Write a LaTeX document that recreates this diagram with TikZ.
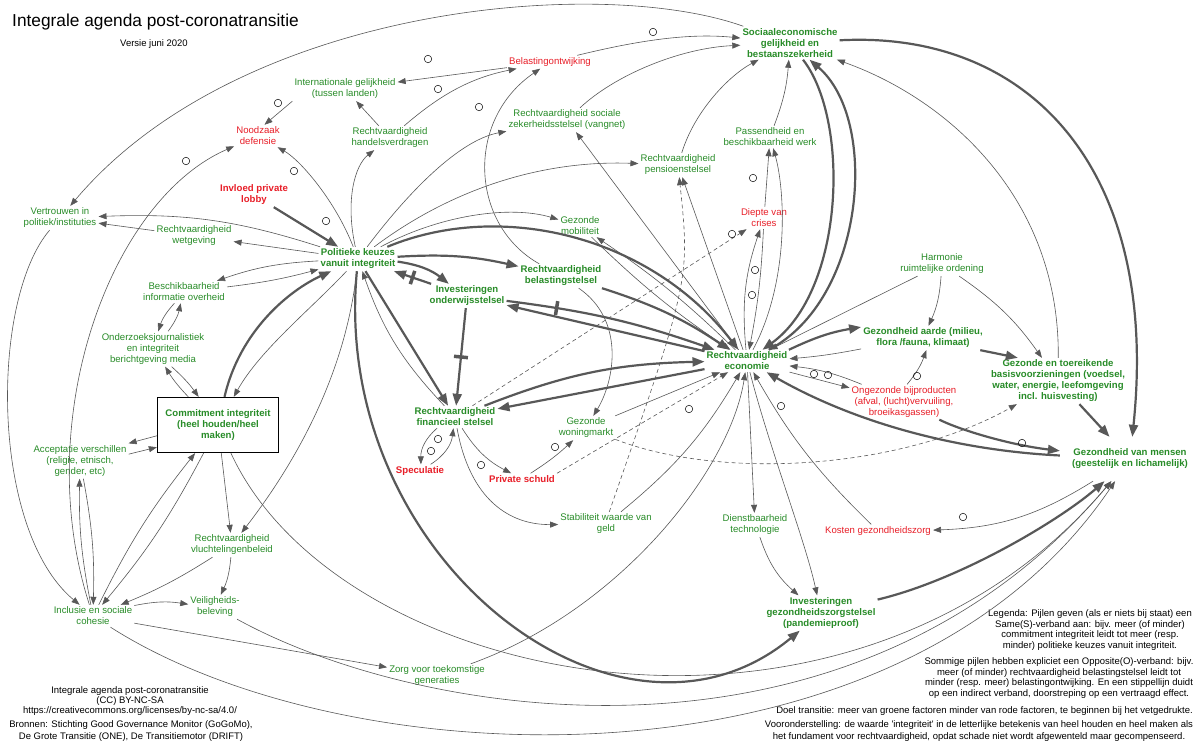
\documentclass[tikz,border=0pt]{standalone}
\usepackage{fontspec}
\setmainfont{Liberation Sans}
\usepackage{tikz}
\usetikzlibrary{arrows.meta}

\definecolor{factorgreen}{RGB}{40,140,40}
\definecolor{factorred}{RGB}{232,30,40}
\definecolor{linkgray}{RGB}{88,88,88}

\newcommand{\factorfont}{\fontsize{9.6}{11}\selectfont}
\newcommand{\notefont}{\fontsize{9.5}{10.7}\selectfont}

\begin{document}
\begin{tikzpicture}[x=1pt,y=1pt,>={Triangle[length=8pt,width=6pt]}]
		\tikzstyle{factor}=[text=factorgreen, align=center, font=\factorfont, inner sep=2pt]
		\tikzstyle{factor bold}=[factor, font=\factorfont\bfseries]
		\tikzstyle{risk}=[factor, text=factorred]
		\tikzstyle{risk bold}=[risk, font=\factorfont\bfseries]
		\tikzstyle{note}=[align=center, font=\notefont, text=black, inner sep=1pt]
		\tikzstyle{link}=[->, draw=linkgray, line width=0.6pt]
		\tikzstyle{strong link}=[-{Triangle[length=12pt,width=9pt]}, draw=linkgray, line width=2.2pt]
		\tikzstyle{indirect}=[link, dash pattern=on 4pt off 3pt]
		\tikzstyle{omark}=[circle, draw=black, line width=0.5pt, minimum size=7.5pt, inner sep=0pt]
		\tikzstyle{delay}=[rectangle, fill=linkgray, minimum width=3.5pt, minimum height=14pt, inner sep=0pt, sloped]

		\fill[white] (0,0) rectangle (1200,-749);
		\useasboundingbox (0,0) rectangle (1200,-749);

		% titel
		\node[anchor=west, inner sep=0pt, font=\fontsize{17.3}{20}\selectfont] (title) at (12,-22) {Integrale agenda post-coronatransitie};
		\node[note] (version) at (154,-44) {Versie juni 2020};

		% factoren
		\node[factor bold] (soc) at (790,-43) {Sociaaleconomische\\gelijkheid en\\bestaanszekerheid};
		\node[risk] (belast) at (550,-62) {Belastingontwijking};
		\node[factor] (intgel) at (345,-89) {Internationale gelijkheid\\(tussen landen)};
		\node[risk] (noodzaak) at (258,-136) {Noodzaak\\defensie};
		\node[factor] (handel) at (390,-138) {Rechtvaardigheid\\handelsverdragen};
		\node[factor] (socvang) at (567,-120) {Rechtvaardigheid sociale\\zekerheidsstelsel (vangnet)};
		\node[factor] (pensioen) at (678,-165) {Rechtvaardigheid\\pensioenstelsel};
		\node[factor] (passend) at (770,-137) {Passendheid en\\beschikbaarheid werk};
		\node[risk] (diepte) at (764,-218) {Diepte van\\crises};
		\node[factor] (mobil) at (580,-226) {Gezonde\\mobiliteit};
		\node[risk bold] (invloed) at (254,-195) {Invloed private\\lobby};
		\node[factor] (vertrouwen) at (60,-218) {Vertrouwen in\\politiek/instituties};
		\node[factor] (wetgeving) at (194,-236) {Rechtvaardigheid\\wetgeving};
		\node[factor bold] (politiek) at (358,-259) {Politieke keuzes\\vanuit integriteit};
		\node[factor bold] (onderwijs) at (467,-296) {Investeringen\\onderwijsstelsel};
		\node[factor bold] (belstelsel) at (561,-276) {Rechtvaardigheid\\belastingstelsel};
		\node[factor bold] (econ) at (747,-361) {Rechtvaardigheid\\economie};
		\node[factor] (harmonie) at (942,-264) {Harmonie\\ruimtelijke ordening};
		\node[factor bold] (aarde) at (923,-338) {Gezondheid aarde (milieu,\\flora /fauna, klimaat)};
		\node[factor bold] (basis) at (1058,-381) {Gezonde en toereikende\\basisvoorzieningen (voedsel,\\water, energie, leefomgeving\\incl. huisvesting)};
		\node[risk] (bijprod) at (904,-402) {Ongezonde bijproducten\\(afval, (lucht)vervuiling,\\broeikasgassen)};
		\node[factor bold, inner sep=12pt] (mensen) at (1130,-459) {Gezondheid van mensen\\(geestelijk en lichamelijk)};
		\node[factor bold, draw=black, line width=1.3pt, minimum width=121pt, minimum height=55pt] (commitment) at (218,-425) {Commitment integriteit\\(heel houden/heel\\maken)};
		\node[factor] (beschik) at (184,-292) {Beschikbaarheid\\informatie overheid};
		\node[factor] (onderzoek) at (153,-349) {Onderzoeksjournalistiek\\en integriteit\\berichtgeving media};
		\node[factor] (accept) at (80,-461) {Acceptatie verschillen\\(religie, etnisch,\\gender, etc)};
		\node[factor bold] (financ) at (455,-417) {Rechtvaardigheid\\financieel stelsel};
		\node[risk bold] (speculatie) at (420,-471) {Speculatie};
		\node[risk bold] (privschuld) at (522,-479) {Private schuld};
		\node[factor] (woning) at (586,-428) {Gezonde\\woningmarkt};
		\node[factor] (stabil) at (606,-524) {Stabiliteit waarde van\\geld};
		\node[factor] (dienst) at (755,-525) {Dienstbaarheid\\technologie};
		\node[risk] (kosten) at (878,-531) {Kosten gezondheidszorg};
		\node[factor bold] (zorgstel) at (821,-613) {Investeringen\\gezondheidszorgstelsel\\(pandemieproof)};
		\node[factor] (vlucht) at (232,-545) {Rechtvaardigheid\\vluchtelingenbeleid};
		\node[factor] (veilig) at (215,-607) {Veiligheids-\\beleving};
		\node[factor] (inclusie) at (93,-616) {Inclusie en sociale\\cohesie};
		\node[factor] (zorgtoek) at (437,-676) {Zorg voor toekomstige\\generaties};

		% toelichting
		\node[note, font=\fontsize{9.5}{10.2}\selectfont] (credits) at (130,-701) {Integrale agenda post-coronatransitie\\(CC) BY-NC-SA\\https://creativecommons.org/licenses/by-nc-sa/4.0/};
		\node[note, font=\fontsize{9.5}{11.5}\selectfont] (sources) at (131,-731) {Bronnen: Stichting Good Governance Monitor (GoGoMo),\\De Grote Transitie (ONE), De Transitiemotor (DRIFT)};
		\node[note] (legend) at (1090,-630) {Legenda: Pijlen geven (als er niets bij staat) een\\Same(S)-verband aan: bijv. meer (of minder)\\commitment integriteit leidt tot meer (resp.\\minder) politieke keuzes vanuit integriteit.};
		\node[note] (legendo) at (1059,-678) {Sommige pijlen hebben expliciet een Opposite(O)-verband: bijv.\\meer (of minder) rechtvaardigheid belastingstelsel leidt tot\\minder (resp. meer) belastingontwijking. En een stippellijn duidt\\op een indirect verband, doorstreping op een vertraagd effect.};
		\node[note, anchor=east] (goal) at (1194,-711) {Doel transitie: meer van groene factoren minder van rode factoren, te beginnen bij het vetgedrukte.};
		\node[note, font=\fontsize{9.5}{11.5}\selectfont] (premise) at (979,-731) {Vooronderstelling: de waarde \textquotesingle integriteit\textquotesingle\ in de letterlijke betekenis van heel houden en heel maken als\\het fundament voor rechtvaardigheid, opdat schade niet wordt afgewenteld maar gecompenseerd.};

		% bovenkant
		\draw[link] (soc) .. controls (600,25) and (240,-5) .. (vertrouwen);
		\draw[link] (belast) .. controls (640,-40) and (690,-33) .. (soc);
		\draw[link] (socvang) .. controls (615,-75) and (680,-48) .. (soc);
		\draw[link] (pensioen) .. controls (695,-110) and (730,-75) .. (soc);
		\draw[link] (passend) to[bend right=8] (soc);
		\draw[strong link] (soc) .. controls (850,-120) and (845,-290) .. (econ);
		\draw[strong link] (econ) .. controls (865,-300) and (880,-120) .. (soc);
		\draw[strong link] (soc) .. controls (1030,-30) and (1160,-170) .. (mensen);
		\draw[link] (basis) .. controls (1060,-200) and (950,-100) .. (soc);

		\draw[link] (belast) -- (intgel);
		\draw[link] (handel) .. controls (440,-95) and (470,-78) .. (belast);
		\draw[link] (belstelsel) .. controls (470,-225) and (465,-120) .. (belast);
		\draw[link] (intgel.south west) -- (noodzaak.60);
		\draw[link] (handel) -- (intgel);
		\draw[link] (inclusie) .. controls (30,-420) and (110,-200) .. (noodzaak);
		\draw[link] (politiek) .. controls (335,-200) and (300,-160) .. (noodzaak);
		\draw[link] (politiek) .. controls (345,-200) and (355,-165) .. (handel);

		% links
		\draw[strong link] (invloed) -- (politiek);
		\draw[link] (politiek) to[bend right=10] (vertrouwen);
		\draw[link] (wetgeving) -- (vertrouwen);
		\draw[link] (politiek) -- (wetgeving);
		\draw[link] (vertrouwen) .. controls (-10,-300) and (-10,-530) .. (inclusie);
		\draw[link] (politiek) to[bend right=8] (beschik);
		\draw[link] (beschik) to[bend right=4] (politiek);
		\draw[link] (beschik) to[bend right=12] (onderzoek);
		\draw[link] (onderzoek) to[bend right=12] (beschik);
		\draw[link] (onderzoek) to[bend left=6] (commitment);
		\draw[link] (commitment) to[bend left=6] (onderzoek);
		\draw[strong link] (commitment) .. controls (240,-330) and (290,-290) .. (politiek);
		\draw[link] (politiek) .. controls (310,-310) and (260,-350) .. (commitment);
		\draw[link] (commitment.190) -- (accept.20);
		\draw[link] (accept.8) -- (commitment.200);
		\draw[link] (inclusie) to[bend left=6] (commitment);
		\draw[link] (commitment) to[bend left=6] (inclusie);
		\draw[link] (commitment) -- (vlucht);
		\draw[link] (politiek) .. controls (345,-380) and (290,-470) .. (vlucht);
		\draw[link] (inclusie) to[bend left=6] (accept);
		\draw[link] (accept) to[bend left=6] (inclusie);
		\draw[link] (inclusie) -- (zorgtoek);
		\draw[link] (inclusie) to[bend left=10] (veilig);
		\draw[link] (vlucht) to[bend left=5] (inclusie);
		\draw[link] (vlucht) to[bend left=10] (veilig);
		\draw[link] (commitment) .. controls (340,-690) and (850,-790) .. (mensen);
		\draw[link] (veilig) .. controls (420,-720) and (850,-790) .. (mensen);
		\draw[link] (inclusie) .. controls (350,-780) and (900,-800) .. (mensen);

		% politieke keuzes
		\draw[link] (politiek) .. controls (410,-190) and (460,-140) .. (socvang);
		\draw[link] (politiek) .. controls (450,-190) and (540,-160) .. (pensioen);
		\draw[link] (politiek) .. controls (440,-215) and (510,-205) .. (mobil);
		\draw[strong link] (politiek) .. controls (500,-200) and (650,-235) .. (econ);
		\draw[strong link] (politiek) to[bend left=8] (belstelsel);
		\draw[strong link] (politiek) to[bend left=15] (onderwijs);
		\draw[strong link] (onderwijs) -- node[delay] {} (politiek);
		\draw[strong link] (politiek) -- (financ);
		\draw[strong link] (onderwijs) -- node[delay] {} (financ);
		\draw[link] (financ) to[bend left=12] (politiek);
		\draw[strong link] (belstelsel) to[bend left=8] (econ);
		\draw[strong link] (onderwijs) to[bend left=6] node[delay, pos=.22] {} (econ);
		\draw[strong link] (econ) -- (onderwijs);
		\draw[strong link] (financ) to[bend left=10] (econ);
		\draw[strong link] (econ) -- (financ);
		\draw[strong link] (politiek) .. controls (330,-560) and (620,-780) .. (zorgstel);

		% economie
		\draw[link] (econ) -- (socvang);
		\draw[link] (econ) -- (pensioen);
		\draw[indirect] (stabil.75) .. controls (690,-280) .. (pensioen);
		\draw[link] (econ) to[bend right=5] (mobil);
		\draw[link] (mobil) to[bend right=5] (econ);
		\draw[link] (econ) to[bend left=12] (diepte);
		\draw[link] (diepte) to[bend left=4] (econ);
		\draw[link] (diepte) -- (passend);
		\draw[link] (econ) .. controls (790,-280) and (785,-190) .. (passend);
		\draw[link] (stabil) to[bend right=10] (econ);
		\draw[link] (zorgtoek) .. controls (620,-610) and (730,-470) .. (econ);
		\draw[link] (woning) -- (econ);
		\draw[indirect] (privschuld.north east) -- (econ);
		\draw[indirect] (financ) -- (diepte);
		\draw[indirect] (woning) .. controls (720,-480) and (900,-470) .. (basis);
		\draw[link] (econ) -- (dienst);
		\draw[link] (econ) .. controls (770,-450) and (805,-540) .. (zorgstel);
		\draw[link] (dienst) to[bend right=15] (zorgstel);
		\draw[link] (kosten) to[bend left=8] (econ);
		\draw[link] (mensen) to[bend left=15] (kosten);
		\draw[strong link] (mensen) .. controls (950,-450) and (850,-420) .. (econ);
		\draw[strong link] (zorgstel) .. controls (960,-580) and (1060,-520) .. (mensen);

		% rechts
		\draw[strong link] (bijprod) .. controls (960,-430) and (1010,-445) .. (mensen);
		\draw[strong link] (basis) -- (mensen);
		\draw[strong link] (aarde.-12) -- (basis.150);
		\draw[link] (harmonie) to[bend left=10] (aarde);
		\draw[link] (harmonie) to[bend left=10] (basis);
		\draw[link] (harmonie) -- (econ);
		\draw[strong link] (econ.15) to[bend left=8] (aarde.170);
		\draw[link] (aarde.190) to[bend left=3] (econ.3);
		\draw[link] (bijprod) to[bend right=8] (econ);
		\draw[link] (econ) -- (bijprod);
		\draw[link] (bijprod.80) to[bend right=10] (aarde.-75);

		% financieel stelsel
		\draw[link] (financ) to[bend right=25] (speculatie);
		\draw[link] (speculatie) to[bend right=25] (financ);
		\draw[link] (financ) to[bend right=15] (privschuld);
		\draw[link] (financ) .. controls (470,-500) and (510,-525) .. (stabil);
		\draw[link] (privschuld) to[bend right=5] (woning);
		\draw[link] (belstelsel) .. controls (625,-320) and (615,-380) .. (woning);

		% O-verbanden
		\foreach \x/\y [count=\i] in {653/-32, 428/-59, 438/-89, 479/-107, 278/-103, 186/-161, 294/-171, 326/-221,
			753/-178, 732/-234, 755/-270, 752/-295, 814/-374, 828/-375, 917/-376, 1022/-443, 689/-409, 781/-406,
			438/-439, 431/-451, 481/-465, 555/-447, 963/-517}
			\node[omark] (o\i) at (\x,\y) {};
	\end{tikzpicture}
\end{document}
